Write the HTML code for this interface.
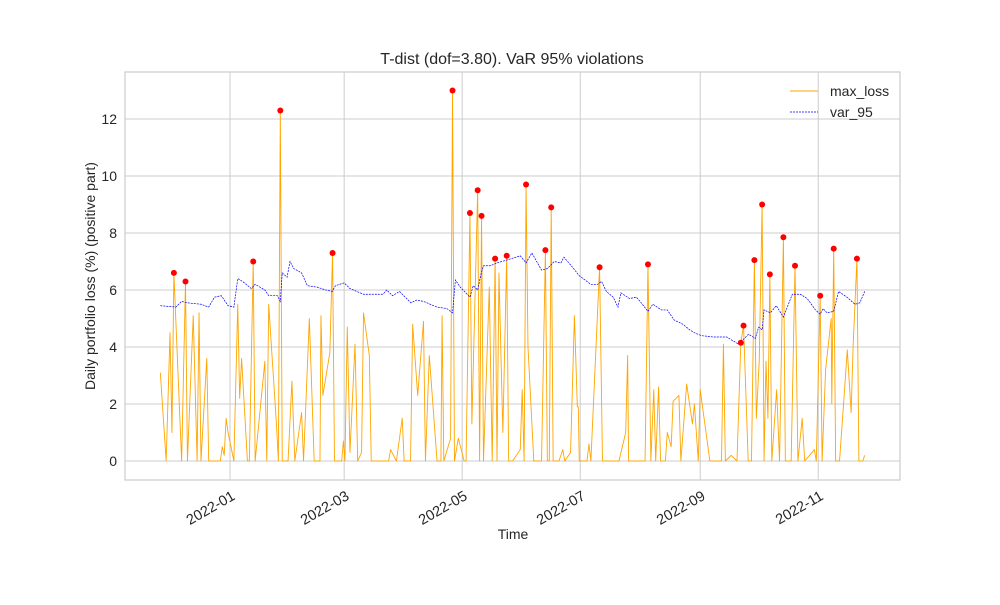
<!DOCTYPE html>
<html><head><meta charset="utf-8"><style>
body{margin:0;background:#fff;}
svg text{font-family:"Liberation Sans",Arial,sans-serif;fill:#262626;}
</style></head><body>
<svg id="chart" width="1000" height="600" xmlns="http://www.w3.org/2000/svg">
<rect width="1000" height="600" fill="#fff"/>
<g id="grid"></g>
<g id="series"></g>
<g id="axes"></g>
</svg>
<script>
// day offsets from 2022-01-01 and loss values (%)
const lossDays=[-36,-33,-31,-30,-29,-25,-23,-22,-19,-17,-16,-15,-12,-11,-5,-4,-3,-2,-1,2,4,5,6,9,10,12,13,18,19,20,24,25,26,27,30,32,33.5,37,38,41,43.5,46.5,47,48,51.6,53,54,57.7,58.6,59.4,60.6,62,64.6,66,68,69,72,73,82,83,86,89,90,93.3,94.4,97,100,101,103,107,109,109.6,110.5,114,115,116,118,121,122,124,125,128,129,130,131,134,135.5,137,138,139,141,143,144,146,150,151,152,153,154,157,158.5,161,163,164,165,166,167,170,172,173,176,178,179.5,180,180.5,184.5,185.5,186.5,191,192.5,201,204.5,205.5,206,214.5,216,217.5,219,220,221.5,222.5,225,226,228,229,232,233,236,239,240,242,243,248,254,255,256,259,262,264,265.4,267.8,269.5,271,272,273.5,275,276,277,278,279,280,282.5,284,286,287,290,292,293.5,295.7,297,302,303,305,306,307.8,310.7,311,312,313,315,317.6,319,321,322,324,325,327,328];
const lossVals=[3.1,0,4.5,1.0,6.6,0,6.3,0,5.1,0,5.2,0,3.6,0,0,0.5,0.2,1.5,1.0,0,5.5,2.2,3.6,0,0,7.0,0,3.5,0,5.5,1.3,0,12.3,0,0,2.8,0,1.7,0,5.0,0,0,5.1,2.3,3.8,7.3,0,0,0.7,0,4.7,0.3,4.1,0,0.3,5.2,3.7,0,0,0.4,0,1.5,0,0,4.8,2.3,4.9,0,3.7,0,0,5.1,0,0.8,13.0,0,0.8,0,0,8.7,1.3,9.5,0,8.6,0,6.1,0,7.1,0,6.6,1.0,7.2,0,0,0.4,2.5,0,9.7,4.0,0,0,0,7.4,0,0,8.9,0,0,0.4,0,0.3,5.1,1.9,1.9,0,0,0.6,0,6.8,0,0,1.0,3.7,0,0,6.9,0,2.5,0,2.6,0,0,1.0,0.5,2.1,2.3,0,2.7,1.3,2.0,0,2.5,0,0,4.1,0,0.2,0,4.15,4.75,0,0,7.05,1.5,3.5,9.0,0,3.5,1.5,6.55,0,2.5,0,7.85,0,0,6.85,0,1.5,0,0.4,0,5.8,0,3.2,5.0,2.0,7.45,0,0,2.5,3.9,1.7,4.0,7.1,0,0,0.2];
const varDays=[-36,-28,-25,-22,-15,-11,-8,-4.5,-1,2,4,6.5,11,13,18,20,24.5,26,27,29.5,31,33,37,40,45,49.5,52.8,54.5,59,62,69,79,81,84,87.6,93.5,96.6,100,107,112,115,116.5,119,124,125.7,128,129.5,131,134.5,138,143,150,153,156,161,164,167.6,171,172.6,177,180.5,186.5,190,192,194.5,198,200.5,202,206.5,210,212.5,216,218.5,223,226,229.5,234,237.6,240,243.5,249.8,256.7,262.8,268,271.5,273.2,275,276,279.3,282.3,286,290.6,294.8,298.3,302.6,305,306.5,308.5,312,314.5,318.8,323,325.5,328];
const varVals=[5.45,5.4,5.6,5.55,5.5,5.4,5.75,5.8,5.45,5.4,6.4,6.3,6.05,6.2,6.0,5.8,5.8,5.6,6.6,6.45,7.0,6.75,6.6,6.15,6.1,6.0,5.95,6.15,6.25,6.05,5.85,5.85,6.0,5.8,5.95,5.55,5.65,5.6,5.4,5.35,5.2,6.35,6.1,5.75,6.15,6.0,6.5,6.85,6.85,6.95,7.05,7.2,6.95,7.3,6.7,6.75,7.0,6.95,7.15,6.8,6.5,6.2,6.2,6.3,5.95,5.75,5.4,5.9,5.7,5.75,5.55,5.25,5.5,5.3,5.3,4.95,4.8,4.6,4.5,4.4,4.35,4.35,4.1,4.45,4.3,4.7,4.6,5.3,5.2,5.45,5.05,5.85,5.85,5.7,5.3,5.15,5.35,5.2,5.25,5.95,5.75,5.5,5.55,5.95];
const yTicks=[0,2,4,6,8,10,12];
const xTickDays=[0,59,120,181,243,304];
const xTickLabels=["2022-01","2022-03","2022-05","2022-07","2022-09","2022-11"];

const L=125,R=900,T=72,B=480;
const xS=d=>230+d*1.935;
const yS=v=>461-v*28.5;
const NS="http://www.w3.org/2000/svg";
function mk(tag,attrs,parent){const e=document.createElementNS(NS,tag);for(const k in attrs)e.setAttribute(k,attrs[k]);parent.appendChild(e);return e;}
const grid=document.getElementById('grid'),ser=document.getElementById('series'),ax=document.getElementById('axes');

yTicks.forEach(v=>{
  const g=mk('line',{x1:L,x2:R,y1:yS(v),y2:yS(v),stroke:'#cccccc','stroke-width':1},grid);
  
  
  const t=mk('text',{x:L-8,y:yS(v)+5,'text-anchor':'end','font-size':14},ax);
  t.textContent=v;
  
  
});
xTickDays.forEach((d,i)=>{
  const g=mk('line',{x1:xS(d),x2:xS(d),y1:T,y2:B,stroke:'#cccccc','stroke-width':1},grid);
  
  
  const x=xS(d)+1,y=490;
  const t=mk('text',{x:x,y:y+10,'text-anchor':'end','font-size':14.5,transform:`rotate(-30 ${x} ${y})`},ax);
  t.textContent=xTickLabels[i];
  
  
});
const frame=mk('rect',{x:L,y:T,width:R-L,height:B-T,fill:'none',stroke:'#cccccc','stroke-width':1.2},ax);



const lossPath=mk('polyline',{points:lossDays.map((d,i)=>xS(d)+','+yS(lossVals[i])).join(' '),fill:'none',stroke:'#ffa500','stroke-width':0.9,'stroke-linejoin':'round'},ser);


const varPath=mk('polyline',{points:varDays.map((d,i)=>xS(d)+','+yS(varVals[i])).join(' '),fill:'none',stroke:'#0000ff','stroke-width':0.7,'stroke-dasharray':'2,1'},ser);



function varAt(d){for(let i=0;i<varDays.length-1;i++){if(d>=varDays[i]&&d<=varDays[i+1]){const f=(d-varDays[i])/(varDays[i+1]-varDays[i]);return varVals[i]+f*(varVals[i+1]-varVals[i]);}}return varVals[varVals.length-1];}
lossDays.forEach((d,i)=>{
  if(lossVals[i]>varAt(d)-0.05){
    const c=mk('circle',{cx:xS(d),cy:yS(lossVals[i]),r:3,fill:'#ff0000'},ser);
    
    
  }
});
</script>
<svg style="position:absolute;left:0;top:0" width="1000" height="600" xmlns="http://www.w3.org/2000/svg">
<text x="512" y="64" text-anchor="middle" font-size="16">T-dist (dof=3.80). VaR 95% violations</text>
<text x="513" y="539" text-anchor="middle" font-size="14">Time</text>
<text x="95" y="276" text-anchor="middle" font-size="14" transform="rotate(-90 95 276)">Daily portfolio loss (%) (positive part)</text>
<g>
<line x1="790" x2="818" y1="91" y2="91" stroke="#ffa500" stroke-width="1"/>
<text x="830" y="96" font-size="14">max_loss</text>
<line x1="790" x2="818" y1="112" y2="112" stroke="#0000ff" stroke-width="0.8" stroke-dasharray="2,1"/>
<text x="830" y="117" font-size="14">var_95</text>
</g>
</svg>
</body></html>
